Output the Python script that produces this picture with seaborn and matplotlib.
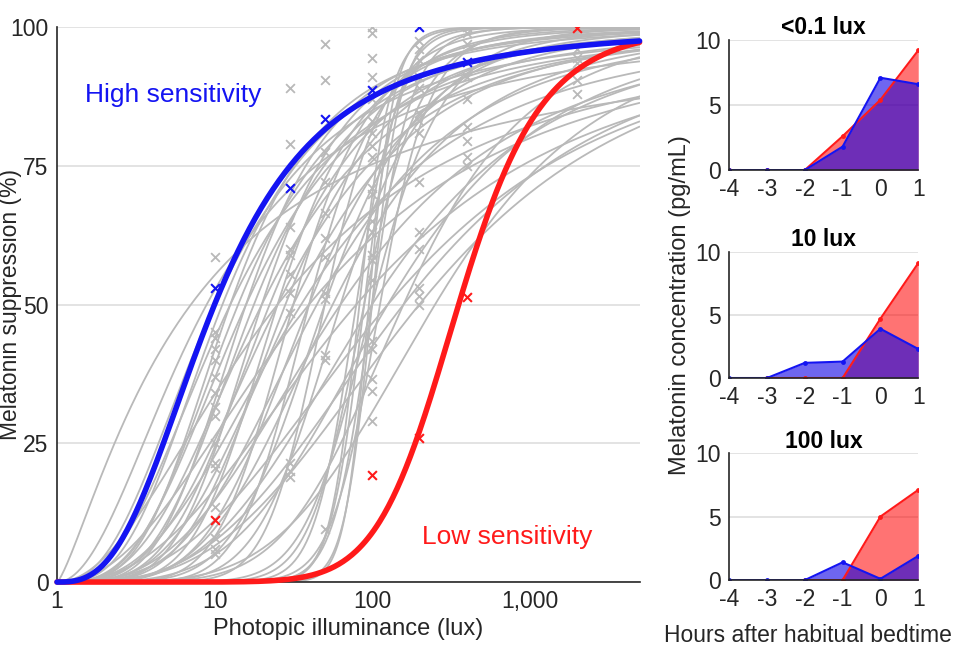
#!/usr/bin/env python3

import numpy as np
import pandas as pd
import matplotlib
matplotlib.use("Agg")
import matplotlib.pyplot as plt
import seaborn as sns
from matplotlib.ticker import FixedLocator, LogLocator, NullFormatter


# --------------------------------------------------
# Left panel: dose-response fits (Hill function on log10 lux)
# each curve given by its half-max log10 illuminance and slope
# --------------------------------------------------
GRAY_LOG_EC50 = [0.85, 0.95, 1.00, 1.05, 1.10, 1.10, 1.15, 1.20, 1.20, 1.25,
                 1.30, 1.30, 1.35, 1.40, 1.40, 1.45, 1.50, 1.50, 1.55, 1.60,
                 1.60, 1.65, 1.70, 1.70, 1.75, 1.80, 1.80, 1.90, 1.95, 1.95,
                 2.00, 2.00, 1.98, 2.05, 2.00, 1.92, 2.00, 2.10, 2.20, 2.30,
                 2.10, 1.90, 2.40, 2.20, 1.60, 1.40]
GRAY_SLOPE = [1.3, 2.0, 2.5, 3.0, 2.6, 3.5, 3.2, 3.0, 4.0, 3.6,
              3.0, 4.5, 3.8, 3.2, 5.0, 4.2, 3.5, 6.0, 2.8, 4.5,
              7.0, 3.5, 5.5, 9.0, 4.0, 6.5, 3.0, 14.0, 18.0, 11.0,
              16.0, 22.0, 25.0, 13.0, 9.0, 20.0, 3.5, 4.0, 3.2, 3.2,
              2.8, 2.5, 4.5, 5.5, 2.2, 2.0]

HIGH_LOG_EC50, HIGH_SLOPE = 1.00, 2.8
LOW_LOG_EC50, LOW_SLOPE = 2.55, 9.6

# measured suppression values (%) at each tested illuminance
GRAY_PTS = {
    10: [58.5, 45, 44, 42, 40, 37, 34, 31.5, 30, 25, 21.5, 20.5, 13.5, 8, 6, 5],
    30: [89, 79, 64, 60, 59, 55.5, 52, 48.5, 21.5, 20, 19],
    50: [97, 90.5, 77.5, 72, 66.5, 62, 58.5, 52, 51, 41, 40, 9.5],
    100: [100, 99, 94.5, 91, 87, 83, 81, 78.5, 76.5, 71, 70, 65, 63, 59, 58,
          54.5, 43.5, 42, 36.5, 34.5, 29],
    200: [97.5, 96, 94, 91, 89, 84.5, 83, 81, 72, 63, 60, 53, 51.5, 50],
    400: [100, 99, 97, 91, 87, 82, 79.5, 76.5, 75],
    2000: [96, 94.5, 93.5, 90.5, 88],
}
HIGH_LUX = [10, 30, 50, 100, 200, 400]
HIGH_PTS = [53, 71, 83.5, 88.6, 100, 93.7]
LOW_LUX = [10, 100, 200, 400, 2000]
LOW_PTS = [11.2, 19.3, 26, 51.4, 99.8]

# --------------------------------------------------
# Right panels: melatonin concentration (pg/mL)
# --------------------------------------------------
HOURS = [-4, -3, -2, -1, 0, 1]
PANEL_TITLES = ["<0.1 lux", "10 lux", "100 lux"]
LOW_MEL = [
    [0, 0, 0, 2.6, 5.4, 9.2],
    [np.nan, 0, 0, 0, 4.7, 9.1],
    [np.nan, np.nan, 0, 0, 5.0, 7.1],
]
HIGH_MEL = [
    [0, 0, 0, 1.8, 7.1, 6.6],
    [0, 0, 1.2, 1.3, 3.9, 2.3],
    [0, 0, 0, 1.4, 0.1, 1.9],
]

BLUE = (0.08, 0.08, 0.95)
RED = (1.0, 0.1, 0.1)
GRAY = "#b9b9b9"
INK = "#262626"
FONT = 16.5
LABEL_FONT = 17
NOTE_FONT = 19


def hill(lux, log_ec50, slope):
    lg = np.log10(lux)
    return 100 * lg ** slope / (lg ** slope + log_ec50 ** slope)


def style_axis(ax):
    sns.despine(ax=ax)
    for side in ["left", "bottom"]:
        ax.spines[side].set_color(INK)
        ax.spines[side].set_linewidth(1.2)
    ax.tick_params(direction="in", colors=INK, labelsize=FONT, length=5,
                   width=1.0, pad=6)
    ax.yaxis.grid(True, color="#dedede", linewidth=1.2)
    ax.xaxis.grid(False)
    ax.set_axisbelow(True)


def main():
    sns.set_theme(style="white")
    plt.rcParams["font.family"] = ["Liberation Sans", "DejaVu Sans"]
    plt.rcParams["axes.unicode_minus"] = False

    fig = plt.figure(figsize=(9.62, 6.54), dpi=100)

    # ---------------- main panel ----------------
    ax = fig.add_axes([0.0593, 0.110, 0.6055, 0.8486])
    lux = np.logspace(0, np.log10(5000), 400)

    rows = []
    for i, (ec, s) in enumerate(zip(GRAY_LOG_EC50, GRAY_SLOPE)):
        rows.append(pd.DataFrame({"subject": i, "lux": lux,
                                  "supp": hill(lux, ec, s)}))
    curves = pd.concat(rows, ignore_index=True)

    sns.lineplot(data=curves, x="lux", y="supp", units="subject",
                 estimator=None, color=GRAY, linewidth=1.3, ax=ax,
                 legend=False)

    pts = pd.DataFrame([(k, v) for k, vals in GRAY_PTS.items() for v in vals],
                       columns=["lux", "supp"])
    sns.scatterplot(data=pts, x="lux", y="supp", marker="x", color=GRAY,
                    s=40, linewidth=1.3, ax=ax, zorder=3)

    sns.lineplot(x=lux, y=hill(lux, HIGH_LOG_EC50, HIGH_SLOPE), color=BLUE,
                 linewidth=4, ax=ax, clip_on=False, zorder=5)
    sns.lineplot(x=lux, y=hill(lux, LOW_LOG_EC50, LOW_SLOPE), color=RED,
                 linewidth=4, ax=ax, clip_on=False, zorder=4)
    sns.scatterplot(x=HIGH_LUX, y=HIGH_PTS, marker="x", color=BLUE, s=40,
                    linewidth=1.5, ax=ax, zorder=6)
    sns.scatterplot(x=LOW_LUX, y=LOW_PTS, marker="x", color=RED, s=40,
                    linewidth=1.5, ax=ax, zorder=6)

    ax.set_xscale("log")
    ax.set_xlim(1, 5000)
    ax.set_ylim(0, 100)
    style_axis(ax)
    ax.xaxis.set_major_locator(FixedLocator([1, 10, 100, 1000]))
    ax.set_xticklabels(["1", "10", "100", "1,000"])
    ax.xaxis.set_minor_locator(LogLocator(base=10, subs=np.arange(2, 10)))
    ax.xaxis.set_minor_formatter(NullFormatter())
    ax.tick_params(axis="x", which="minor", direction="in", length=3,
                   colors=INK)
    ax.set_yticks([0, 25, 50, 75, 100])
    ax.set_xlabel("Photopic illuminance (lux)", fontsize=LABEL_FONT,
                  color=INK, labelpad=3)
    ax.set_ylabel("Melatonin suppression (%)", fontsize=FONT, color=INK)
    ax.yaxis.set_label_coords(-0.060, 0.5)

    ax.text(1.51, 87.7, "High sensitivity", color=BLUE, fontsize=NOTE_FONT,
            va="center", ha="left")
    ax.text(208, 8.1, "Low sensitivity", color=RED, fontsize=NOTE_FONT,
            va="center", ha="left")

    # ---------------- right panels ----------------
    boxes = [
        [0.758, 0.740, 0.1965, 0.1988],
        [0.758, 0.422, 0.1965, 0.1930],
        [0.758, 0.113, 0.1965, 0.1942],
    ]
    for box, title, red, blue in zip(boxes, PANEL_TITLES, LOW_MEL, HIGH_MEL):
        sax = fig.add_axes(box)
        red = np.array(red, dtype=float)
        blue = np.array(blue, dtype=float)
        sax.fill_between(HOURS, 0, red, color=(1, 0.0, 0.0), alpha=0.55,
                         linewidth=0)
        sax.fill_between(HOURS, 0, blue, color=(0.05, 0.0, 0.9), alpha=0.6,
                         linewidth=0)
        sns.lineplot(x=HOURS, y=red, color=RED, linewidth=1.5, marker="o",
                     markersize=3.5, markeredgewidth=0, ax=sax)
        sns.lineplot(x=HOURS, y=blue, color=BLUE, linewidth=1.5, marker="o",
                     markersize=3.5, markeredgewidth=0, ax=sax)
        sax.set_xlim(-4, 1)
        sax.set_ylim(0, 10)
        style_axis(sax)
        sax.set_xticks(HOURS)
        sax.set_xticklabels([str(h) for h in HOURS])
        sax.set_yticks([0, 5, 10])
        sax.set_title(title, fontsize=FONT, fontweight="bold", color="black",
                      pad=4)

    fig.text(0.707, 0.534, "Melatonin concentration (pg/mL)", rotation=90,
             ha="center", va="center", fontsize=LABEL_FONT, color=INK)
    fig.text(0.840, 0.029, "Hours after habitual bedtime", ha="center",
             va="center", fontsize=FONT, color=INK)

    fig.savefig("out.png", dpi=100)
    plt.close(fig)


if __name__ == "__main__":
    main()
